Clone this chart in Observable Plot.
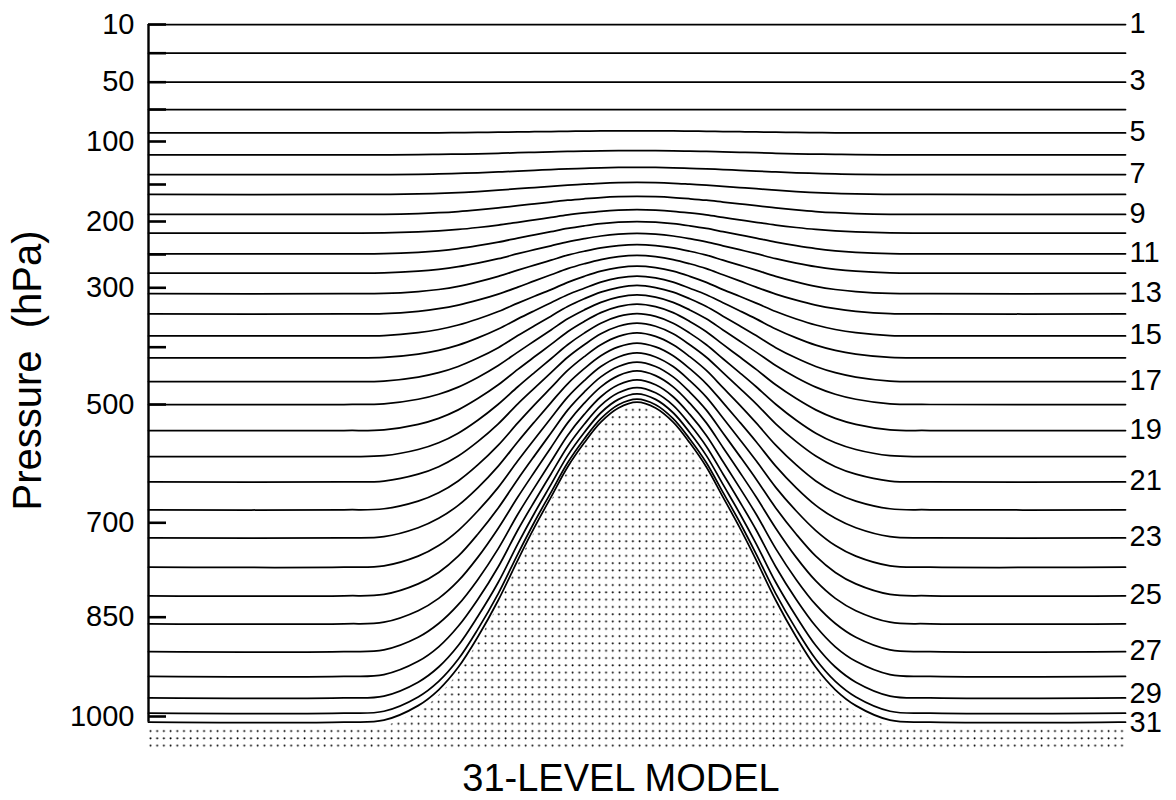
<!DOCTYPE html>
<html>
<head>
<meta charset="utf-8">
<script src="https://cdn.jsdelivr.net/npm/d3@7"></script>
<script src="https://cdn.jsdelivr.net/npm/@observablehq/plot@0.6"></script>
<style>
  html, body { margin: 0; padding: 0; background: #fff; }
  #chart svg { display: block; }
</style>
</head>
<body>
<div id="chart"></div>
<script>
// Model levels 1..31
const levels = d3.range(1, 32);

// Full-level pressure (hPa) over flat ground, levels 1..31
const flatPressure = [10, 30, 50, 70, 92, 115.5, 138.5, 163.5, 190.5, 217.5, 249, 278, 310, 344, 381,
  418.5, 460, 500, 544, 588, 631, 678, 724, 770.5, 816, 860, 902, 939.5, 972, 995, 1008.5];

// Full-level pressure (hPa) above the mountain crest, levels 1..31
const peakPressure = [10, 30, 50, 70, 90, 110.5, 130, 147.5, 166, 184, 200, 218, 235, 251.5, 267.5,
  282.5, 296.5, 312, 327.5, 343.5, 359.5, 376, 393, 410, 426, 441.5, 457, 470.5, 481.5, 490.5, 496];

// Mountain profile: horizontal distance from the crest and surface pressure there (hPa)
const ridgeOffset = [0, 1.9, 3.7, 5.4, 7.1, 8.8, 10.5, 12.2, 14.2, 16.3, 18.3, 20.3, 22.4, 25.9, 30];
const surfacePressure = [504, 514, 538, 573, 614, 665, 716, 768, 832, 889, 935, 969, 993, 1015, 1018];
const ridgeCenter = 50;
const domainEdges = [0, 100];
const groundBottom = 1048;

// Pressure axis
const pressureTicks = [10, 30, 50, 70, 100, 150, 200, 250, 300, 400, 500, 700, 850, 1000];
const pressureLabels = [10, 50, 100, 200, 300, 500, 700, 850, 1000];
const labelledLevels = levels.filter((k) => k % 2 === 1);

const axisLabel = "Pressure  (hPa)";
const title = "31-LEVEL MODEL";

// Layout
const width = 1176, height = 800;
const marginLeft = 148, marginRight = 51, marginTop = 24, marginBottom = 84;
// Vertical placement of the pressure ticks: the axis is stretched aloft
const yStops = [24, 52.7, 81.7, 109, 141, 184, 221, 254, 287.3, 346.7, 404, 522.3, 616.7, 716];
const stretch = d3.scaleLinear().domain(pressureTicks).range(yStops);
const tickLength = 18 * 100 / (width - marginLeft - marginRight);

// Surface pressure along the section (symmetric ridge)
const ps0 = surfacePressure[surfacePressure.length - 1];
const ps1 = surfacePressure[0];
const terrain = [];
terrain.push({x: domainEdges[0], ps: ps0});
for (let i = ridgeOffset.length - 1; i >= 0; --i) terrain.push({x: ridgeCenter - ridgeOffset[i], ps: surfacePressure[i]});
for (let i = 1; i < ridgeOffset.length; ++i) terrain.push({x: ridgeCenter + ridgeOffset[i], ps: surfacePressure[i]});
terrain.push({x: domainEdges[1], ps: ps0});

// Hybrid levels: each level moves from its flat-ground pressure toward its crest pressure
// in proportion to the terrain elevation
const levelRows = [];
levels.forEach((k, i) => {
  for (const t of terrain) {
    const w = (ps0 - t.ps) / (ps0 - ps1);
    levelRows.push({level: k, x: t.x, p: flatPressure[i] + (peakPressure[i] - flatPressure[i]) * w});
  }
});

const font = "'Liberation Sans', Arial, Helvetica, sans-serif";
const levelLabel = (filter, dy) => Plot.text(labelledLevels.filter(filter), {
  x: domainEdges[1], y: (k) => flatPressure[k - 1], text: (k) => String(k),
  dx: 4, dy, textAnchor: "start", fontSize: 29, fill: "#000"
});

const svg = Plot.plot({
  width, height, marginLeft, marginRight, marginTop, marginBottom,
  style: {fontFamily: font, background: "#fff", color: "#000"},
  x: {domain: domainEdges, axis: null},
  y: {
    transform: stretch,
    domain: [yStops[0], yStops[yStops.length - 1]],
    range: [marginTop, height - marginBottom],
    axis: null
  },
  marks: [
    Plot.areaY(terrain, {x: "x", y1: "ps", y2: groundBottom, fill: "url(#stipple)", curve: "catmull-rom"}),
    Plot.line(levelRows, {x: "x", y: "p", z: "level", stroke: "#000", strokeWidth: 1.75, curve: "catmull-rom"}),
    Plot.ruleX([domainEdges[0]], {y1: pressureTicks[0], y2: flatPressure[30], stroke: "#000", strokeWidth: 2.4}),
    Plot.ruleY(pressureTicks, {x1: domainEdges[0], x2: tickLength, stroke: "#000", strokeWidth: 2.6}),
    Plot.text(pressureLabels, {x: domainEdges[0], y: (d) => d, text: (d) => String(d), dx: -14,
      textAnchor: "end", fontSize: 29, fill: "#000"}),
    levelLabel((k) => k < 29, -1),
    levelLabel((k) => k === 29, -4),
    levelLabel((k) => k === 31, 1),
    Plot.text([axisLabel], {frameAnchor: "left", dx: -120, rotate: -90, textAnchor: "middle",
      fontSize: 40, fill: "#000"}),
    Plot.text([title], {frameAnchor: "bottom", dx: -16, dy: 74, lineAnchor: "bottom", fontSize: 38, fill: "#000"})
  ]
});

// Stipple used for the ground
const defs = d3.select(svg).insert("defs", ":first-child");
const pattern = defs.append("pattern")
  .attr("id", "stipple")
  .attr("patternUnits", "userSpaceOnUse")
  .attr("x", marginLeft).attr("y", 728)
  .attr("width", 6.7).attr("height", 7.3);
pattern.append("circle").attr("cx", 2.5).attr("cy", 3).attr("r", 1).attr("fill", "#000");

document.getElementById("chart").appendChild(svg);
</script>
</body>
</html>
